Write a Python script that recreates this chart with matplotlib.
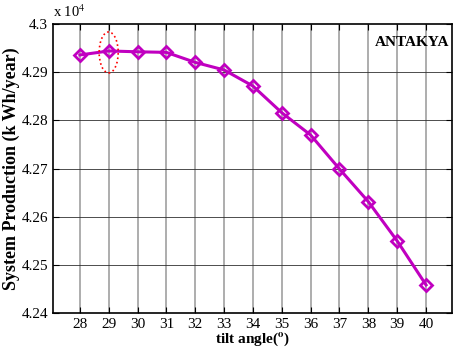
import numpy as np
import matplotlib.pyplot as plt
from matplotlib.patches import Ellipse

plt.rcParams['font.family'] = ['Liberation Serif', 'DejaVu Serif']
plt.rcParams['mathtext.fontset'] = 'stix'

# tilt angle (deg) and annual production (kWh/year)
tilt = [28, 29, 30, 31, 32, 33, 34, 35, 36, 37, 38, 39, 40]
production = [42935.7, 42944.0, 42942.3, 42941.1, 42920.3, 42904.6, 42871.2,
              42815.8, 42769.5, 42699.0, 42631.1, 42549.6, 42458.3]
yticks = [4.24, 4.25, 4.26, 4.27, 4.28, 4.29, 4.30]
ytick_labels = ['4.24', '4.25', '4.26', '4.27', '4.28', '4.29', '4.3']

y = np.array(production) / 1e4

fig = plt.figure(figsize=(4.54, 3.54), dpi=100)
ax = fig.add_axes([53 / 454, 1 - 313 / 354, 399 / 454, 289 / 354])

for t in tilt:
    ax.axvline(t, color='#a0a0a0', lw=1.2, zorder=0)
for v in yticks[1:-1]:
    ax.axhline(v, color='#303030', lw=0.6, zorder=0)

ax.plot(tilt, y, color='#c000c0', lw=2.2, marker='D', ms=6,
        mfc='none', mec='#c000c0', mew=2.0, zorder=3)

# highlight the optimum tilt
ax.add_patch(Ellipse((29, 4.29409), 0.66, 0.0085, fill=False,
                     ec='red', ls=':', lw=1.2, zorder=4))

ax.set_xlim(27.07, 40.9)
ax.set_ylim(4.24, 4.30)
ax.set_xticks(tilt)
ax.set_yticks(yticks)
ax.set_yticklabels(ytick_labels)
ax.tick_params(direction='in', top=True, right=True, labelsize=11, length=4)
for s in ax.spines.values():
    s.set_linewidth(1.2)

ax.set_xlabel('tilt angle($\\mathbf{^o}$)', fontsize=11, fontweight='bold', labelpad=0)
ax.set_ylabel('System Production (k Wh/year)', fontsize=13, fontweight='bold', labelpad=1)
ax.text(0.993, 0.935, 'ANTAKYA', transform=ax.transAxes, ha='right', va='center',
        fontsize=11, fontweight='bold')
ax.text(0.0, 1.015, 'x 10$^4$', transform=ax.transAxes, ha='left', va='bottom', fontsize=10.5)

fig.savefig('out.png', dpi=100)
